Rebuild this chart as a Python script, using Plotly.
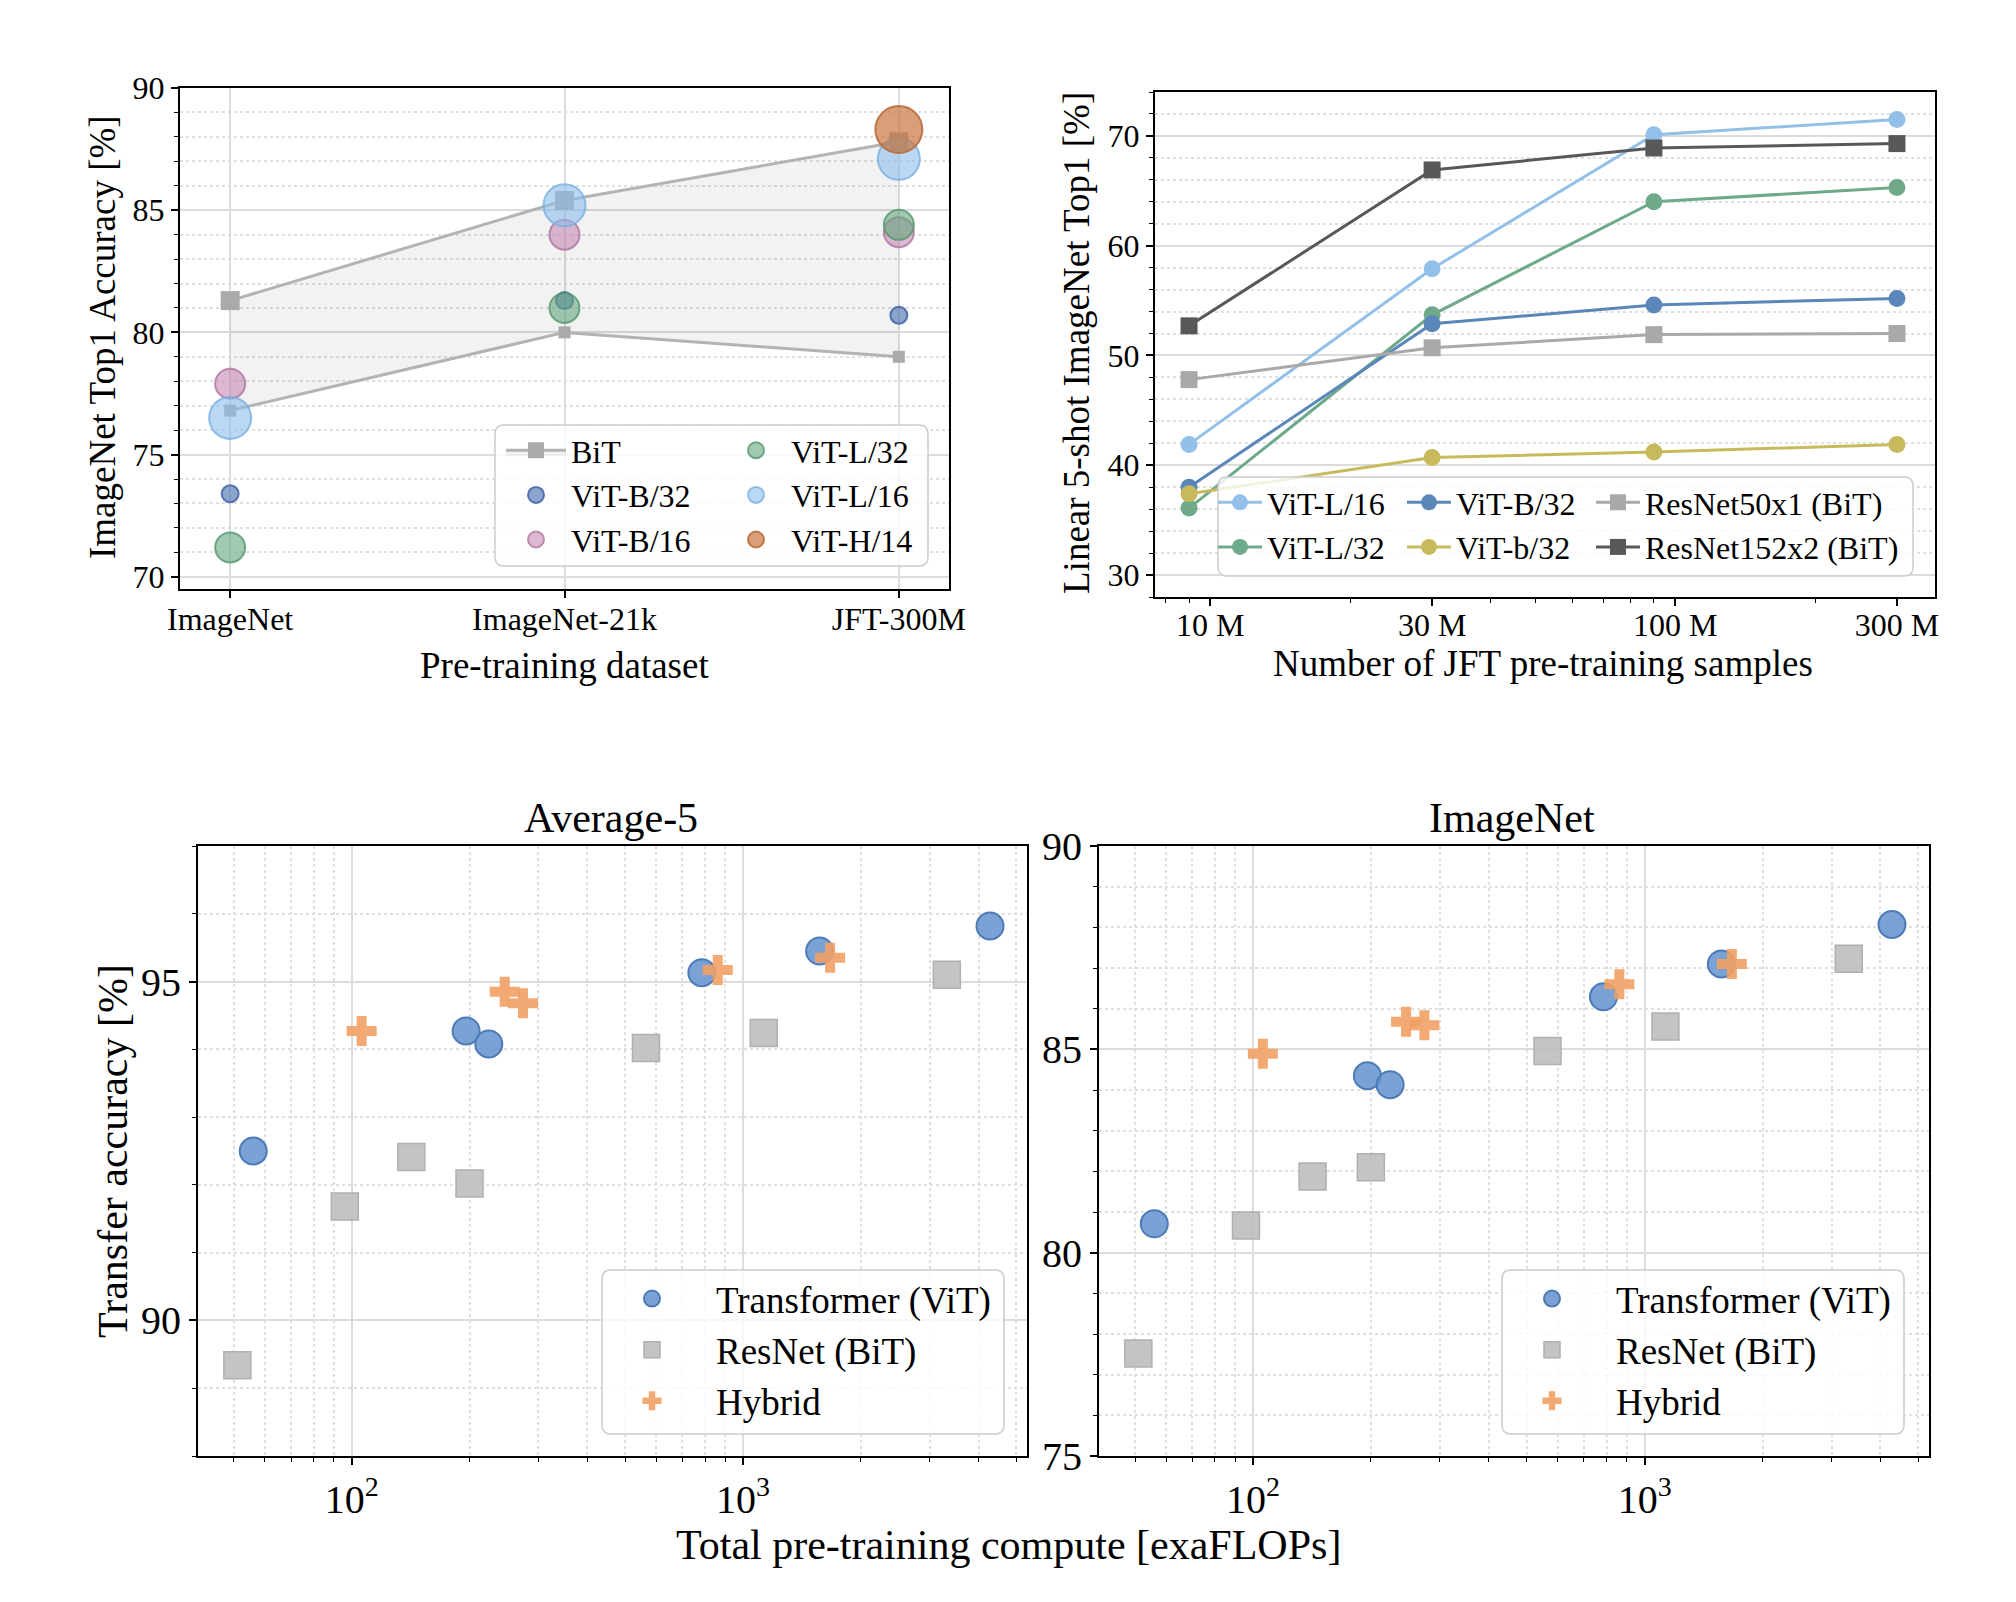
import plotly.graph_objects as go

# The page body has an 8 px margin, so the figure is 16 px smaller than the
# window and screen coordinates are mapped back to figure coordinates.
SCREEN_W, SCREEN_H = 2016, 1602
OFF = 8
W, H = SCREEN_W - 2 * OFF, SCREEN_H - 2 * OFF
FONT = "Liberation Serif, Times New Roman, serif"

# ---------------- Panel A: ImageNet top1 vs pre-training dataset ----------------
datasets = ["ImageNet", "ImageNet-21k", "JFT-300M"]
bit_upper = [81.3, 85.4, 87.8]
bit_lower = [76.8, 80.0, 79.0]
vit_b32 = [73.4, 81.3, 80.7]
vit_b16 = [77.9, 84.0, 84.1]
vit_l32 = [71.2, 81.0, 84.4]
vit_l16 = [76.5, 85.2, 87.1]
h14_datasets = ["JFT-300M"]
vit_h14 = [88.3]

# ---------------- Panel B: linear 5-shot vs JFT samples ----------------
samples = [9e6, 30e6, 90e6, 300e6]
fs_vit_l16 = [41.9, 57.9, 70.1, 71.5]
fs_vit_l32 = [36.1, 53.7, 64.0, 65.3]
fs_vit_b32 = [38.0, 52.9, 54.6, 55.2]
fs_vit_b32s = [37.4, 40.7, 41.2, 41.9]
fs_r50x1 = [47.8, 50.7, 51.9, 52.0]
fs_r152x2 = [52.7, 66.9, 68.9, 69.3]
sample_ticks = [1e7, 3e7, 1e8, 3e8]
sample_ticktext = ["10 M", "30 M", "100 M", "300 M"]
sample_minor = [8e6, 9e6, 2e7, 4e7, 5e7, 6e7, 7e7, 8e7, 9e7, 2e8]

# ---------------- Panels C/D: transfer accuracy vs compute ----------------
vit_flops = [56, 196, 224, 785, 1570, 4280]
vit_avg5 = [92.5, 94.27, 94.08, 95.13, 95.45, 95.82]
vit_imnet = [80.71, 84.35, 84.13, 86.29, 87.10, 88.07]
bit_flops = [51, 96, 142, 200, 565, 1130, 3320]
bit_avg5 = [89.34, 91.68, 92.41, 92.02, 94.02, 94.24, 95.10]
bit_imnet = [77.52, 80.67, 81.87, 82.10, 84.96, 85.56, 87.23]
hyb_flops = [106, 246, 274, 862, 1670]
hyb_avg5 = [94.27, 94.85, 94.68, 95.17, 95.35]
hyb_imnet = [84.89, 85.68, 85.59, 86.60, 87.10]
flop_ticks = [100, 1000]
flop_ticktext = ["10<sup>2</sup>", "10<sup>3</sup>"]
flop_minor = [50, 60, 70, 80, 90, 200, 300, 400, 500, 600, 700, 800, 900,
              2000, 3000, 4000, 5000]


def px_x(x):
    return (x - OFF) / W


def px_y(y):
    return 1 - (y - OFF) / H


fig = go.Figure()

# ---- Panel A traces
GRAY_LINE = "#b3b3b3"
fig.add_trace(go.Scatter(
    x=datasets, y=bit_lower, mode="lines+markers", xaxis="x", yaxis="y",
    line=dict(color=GRAY_LINE, width=3), marker=dict(symbol="square", size=12, color="#aaaaaa"),
    showlegend=False, hoverinfo="skip"))
fig.add_trace(go.Scatter(
    x=datasets, y=bit_upper, mode="lines+markers", xaxis="x", yaxis="y", name="BiT",
    line=dict(color=GRAY_LINE, width=3), marker=dict(symbol="square", size=19, color="#aaaaaa"),
    fill="tonexty", fillcolor="rgba(0,0,0,0.05)", legend="legend"))

vit_a = [
    ("ViT-B/32", datasets, vit_b32, "rgba(80,118,180,0.65)", "rgba(62,98,165,0.85)", 17, "legend"),
    ("ViT-B/16", datasets, vit_b16, "rgba(196,136,180,0.6)", "rgba(175,115,160,0.8)", 30, "legend"),
    ("ViT-L/32", datasets, vit_l32, "rgba(100,165,125,0.6)", "rgba(85,150,110,0.8)", 30, "legend2"),
    ("ViT-L/16", datasets, vit_l16, "rgba(140,190,235,0.6)", "rgba(120,175,225,0.8)", 42, "legend2"),
    ("ViT-H/14", h14_datasets, vit_h14, "rgba(200,118,64,0.7)", "rgba(185,105,55,0.85)", 47, "legend2"),
]
for name, xs, ys, col, edge, sz, lg in vit_a:
    fig.add_trace(go.Scatter(
        x=xs, y=ys, mode="markers", xaxis="x", yaxis="y", name=name, legend=lg,
        marker=dict(size=sz, color=col, line=dict(color=edge, width=2))))

# ---- Panel B traces
b_series = [
    ("ViT-L/16", fs_vit_l16, "#93c0e8", "circle", "legend3"),
    ("ViT-L/32", fs_vit_l32, "#6eaa8a", "circle", "legend3"),
    ("ViT-B/32", fs_vit_b32, "#5a86ba", "circle", "legend4"),
    ("ViT-b/32", fs_vit_b32s, "#c8ba5c", "circle", "legend4"),
    ("ResNet50x1 (BiT)", fs_r50x1, "#a9a9a9", "square", "legend5"),
    ("ResNet152x2 (BiT)", fs_r152x2, "#585858", "square", "legend5"),
]
for name, ys, col, sym, lg in b_series:
    fig.add_trace(go.Scatter(
        x=samples, y=ys, mode="lines+markers", xaxis="x2", yaxis="y2", name=name, legend=lg,
        line=dict(color=col, width=3),
        marker=dict(symbol=sym, size=17, color=col)))

# ---- Panels C/D traces
VIT_C = "rgba(100,146,204,0.85)"
BIT_C = "rgba(190,190,190,0.9)"
HYB_C = "rgba(242,160,100,0.9)"
for (xa, ya, lg, yv, yb, yh) in [("x3", "y3", "legend6", vit_avg5, bit_avg5, hyb_avg5),
                                 ("x4", "y4", "legend7", vit_imnet, bit_imnet, hyb_imnet)]:
    fig.add_trace(go.Scatter(
        x=vit_flops, y=yv, mode="markers", xaxis=xa, yaxis=ya, name="Transformer (ViT)", legend=lg,
        marker=dict(symbol="circle", size=27, color=VIT_C, line=dict(color="#4d7bb8", width=2))))
    fig.add_trace(go.Scatter(
        x=bit_flops, y=yb, mode="markers", xaxis=xa, yaxis=ya, name="ResNet (BiT)", legend=lg,
        marker=dict(symbol="square", size=27, color=BIT_C, line=dict(color="#b0b0b0", width=1.5))))
    fig.add_trace(go.Scatter(
        x=hyb_flops, y=yh, mode="markers", xaxis=xa, yaxis=ya, name="Hybrid", legend=lg,
        marker=dict(symbol="cross", size=25, color=HYB_C, line=dict(width=0))))

# ---------------- Axes ----------------
tickfont_top = dict(family=FONT, size=32, color="black")
tickfont_bot = dict(family=FONT, size=40, color="black")
GRID = "#dcdcdc"
MINOR_GRID = "#e0e0e0"
common = dict(showline=True, linecolor="black", linewidth=2, mirror=True,
              ticks="outside", ticklen=7, tickwidth=1.5, tickcolor="black",
              zeroline=False, automargin=False)

dom_a_x = [px_x(180), px_x(949)]
dom_a_y = [px_y(589), px_y(88)]
dom_b_x = [px_x(1155), px_x(1935)]
dom_b_y = [px_y(597), px_y(92)]
dom_c_x = [px_x(198), px_x(1027)]
dom_d_x = [px_x(1099), px_x(1929)]
dom_cd_y = [px_y(1456), px_y(846)]


def minor_y(step):
    return dict(dtick=step, ticks="outside", ticklen=4, tickwidth=1, tickcolor="black",
                showgrid=True, gridcolor=MINOR_GRID, griddash="dot", gridwidth=1.5)


def minor_x(vals, grid):
    return dict(tickvals=vals, ticks="outside", ticklen=4, tickwidth=1, tickcolor="black",
                showgrid=grid, gridcolor=MINOR_GRID, griddash="dot", gridwidth=1.5)


fig.update_layout(
    template="none",
    xaxis=dict(domain=dom_a_x, anchor="y", type="category", range=[-0.15, 2.15],
               tickfont=tickfont_top, showgrid=True, gridcolor=GRID, gridwidth=1.5,
               ticklabelstandoff=-6, **common),
    yaxis=dict(domain=dom_a_y, anchor="x", range=[69.5, 90], dtick=5, tick0=70,
               tickfont=tickfont_top, showgrid=True, gridcolor=GRID, gridwidth=2,
               minor=minor_y(1), **common),
    xaxis2=dict(domain=dom_b_x, anchor="y2", type="log", range=[6.881, 8.559],
                tickvals=sample_ticks, ticktext=sample_ticktext, tickfont=tickfont_top,
                showgrid=False, minor=minor_x(sample_minor, False),
                ticklabelstandoff=-8, **common),
    yaxis2=dict(domain=dom_b_y, anchor="x2", range=[28, 74], dtick=10, tick0=30,
                tickfont=tickfont_top, showgrid=True, gridcolor=GRID, gridwidth=2,
                minor=minor_y(2), **common),
    xaxis3=dict(domain=dom_c_x, anchor="y3", type="log", range=[1.607, 3.726],
                tickvals=flop_ticks, ticktext=flop_ticktext, tickfont=tickfont_bot,
                showgrid=True, gridcolor=GRID, gridwidth=1.5,
                minor=minor_x(flop_minor, True), **common),
    yaxis3=dict(domain=dom_cd_y, anchor="x3", range=[88, 97], dtick=5, tick0=90,
                tickfont=tickfont_bot, showgrid=True, gridcolor=GRID, gridwidth=2,
                minor=minor_y(1), **common),
    xaxis4=dict(domain=dom_d_x, anchor="y4", type="log", range=[1.607, 3.726],
                tickvals=flop_ticks, ticktext=flop_ticktext, tickfont=tickfont_bot,
                showgrid=True, gridcolor=GRID, gridwidth=1.5,
                minor=minor_x(flop_minor, True), **common),
    yaxis4=dict(domain=dom_cd_y, anchor="x4", range=[75, 90], dtick=5, tick0=75,
                tickfont=tickfont_bot, showgrid=True, gridcolor=GRID, gridwidth=2,
                minor=minor_y(1), **common),
)

# ---------------- Legends ----------------
def legend_at(xpx, ypx, size, itemwidth=30):
    return dict(x=px_x(xpx), y=px_y(ypx), xanchor="left", yanchor="top",
                bgcolor="rgba(0,0,0,0)", borderwidth=0, traceorder="normal",
                itemwidth=itemwidth,
                font=dict(family=FONT, size=size, color="black"), tracegroupgap=0)

fig.update_layout(
    legend=legend_at(501, 423, 32, 60),
    legend2=legend_at(721, 423, 32, 60),
    legend3=legend_at(1213, 475, 32, 44),
    legend4=legend_at(1402, 475, 32, 44),
    legend5=legend_at(1591, 475, 32, 44),
    legend6=legend_at(588, 1268, 37, 118),
    legend7=legend_at(1488, 1268, 37, 118),
)


def rounded_box(x0, y0, x1, y1, r=9):
    pts = [
        ("M", [(x0 + r, y0)]), ("L", [(x1 - r, y0)]), ("Q", [(x1, y0), (x1, y0 + r)]),
        ("L", [(x1, y1 - r)]), ("Q", [(x1, y1), (x1 - r, y1)]), ("L", [(x0 + r, y1)]),
        ("Q", [(x0, y1), (x0, y1 - r)]), ("L", [(x0, y0 + r)]), ("Q", [(x0, y0), (x0 + r, y0)]),
    ]
    s = ""
    for cmd, ps in pts:
        s += cmd + " " + " ".join(f"{px_x(a):.5f},{px_y(b):.5f}" for a, b in ps) + " "
    return dict(type="path", path=s + "Z", xref="paper", yref="paper", layer="above",
                fillcolor="rgba(255,255,255,0.8)", line=dict(color="#cccccc", width=1.5))


fig.update_layout(shapes=[
    rounded_box(495, 425, 928, 566),
    rounded_box(1218, 477, 1913, 576),
    rounded_box(602, 1270, 1004, 1434),
    rounded_box(1502, 1270, 1904, 1434),
])

# ---------------- Titles / axis labels ----------------
def text_at(txt, xpx, ypx, size, angle=0):
    return dict(text=txt, x=px_x(xpx), y=px_y(ypx), xref="paper", yref="paper",
                xanchor="center", yanchor="middle", showarrow=False, textangle=angle,
                font=dict(family=FONT, size=size, color="black"))

fig.update_layout(annotations=[
    text_at("Pre-training dataset", 564, 665, 37),
    text_at("ImageNet Top1 Accuracy [%]", 103, 337, 37, -90),
    text_at("Number of JFT pre-training samples", 1543, 663, 37),
    text_at("Linear 5-shot ImageNet Top1 [%]", 1077, 343, 37, -90),
    text_at("Average-5", 611, 818, 42),
    text_at("ImageNet", 1512, 818, 42),
    text_at("Transfer accuracy [%]", 113, 1151, 42, -90),
    text_at("Total pre-training compute [exaFLOPs]", 1009, 1545, 42),
])

fig.update_layout(width=W, height=H, margin=dict(l=0, r=0, t=0, b=0, autoexpand=False),
                  paper_bgcolor="white", plot_bgcolor="white",
                  font=dict(family=FONT, color="black"))

fig.write_html("out.html")
